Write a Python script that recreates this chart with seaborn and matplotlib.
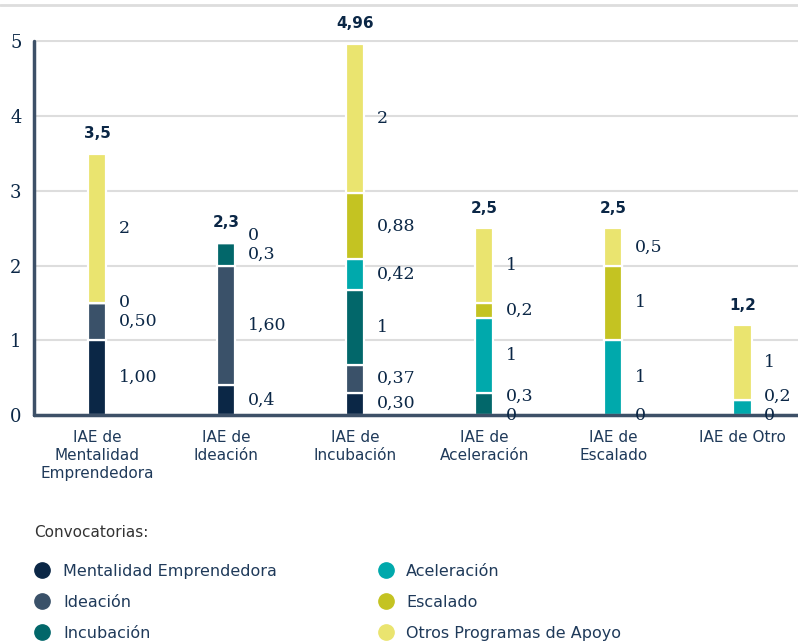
import numpy as np
import pandas as pd
import matplotlib
matplotlib.use("Agg")
import matplotlib.pyplot as plt
from matplotlib.lines import Line2D
import seaborn as sns

# Categories (x axis)
categories = ["IAE de\nMentalidad\nEmprendedora", "IAE de\nIdeación", "IAE de\nIncubación",
              "IAE de\nAceleración", "IAE de\nEscalado", "IAE de Otro"]

# Series values as printed on the chart (None = no segment / no label)
mentalidad = ["1,00", "0,4", "0,30", "0", "0", "0"]
ideacion = ["0,50", "1,60", "0,37", None, None, None]
incubacion = ["0", "0,3", "1", "0,3", None, None]
aceleracion = [None, "0", "0,42", "1", "1", "0,2"]
escalado = [None, None, "0,88", "0,2", "1", None]
otros = ["2", None, "2", "1", "0,5", "1"]

totals = ["3,5", "2,3", "4,96", "2,5", "2,5", "1,2"]

series_names = ["Mentalidad Emprendedora", "Ideación", "Incubación",
                "Aceleración", "Escalado", "Otros Programas de Apoyo"]
series_data = [mentalidad, ideacion, incubacion, aceleracion, escalado, otros]
colors = ["#0B2746", "#3A5169", "#02676A", "#00A9AC", "#C4C322", "#EAE46F"]


def to_num(s):
    return np.nan if s is None else float(s.replace(",", "."))


sns.set_style("white")
serif = "DejaVu Serif"
sans = "DejaVu Sans"
navy = "#0B2746"

fig = plt.figure(figsize=(7.98, 6.44), dpi=100)
ax = fig.add_axes([34 / 798, 1 - 415 / 644, 1 - 34 / 798, (415 - 40) / 644])

bottom = np.zeros(len(categories))
label_pos = [[] for _ in categories]
for name, vals, col in zip(series_names, series_data, colors):
    nums = np.array([to_num(v) for v in vals])
    h = np.nan_to_num(nums)
    df = pd.DataFrame({"cat": categories, "val": h})
    sns.barplot(data=df, x="cat", y="val", order=categories, color=col,
                width=0.14, errorbar=None, bottom=bottom, ax=ax,
                edgecolor="white", linewidth=1.6, saturation=1)
    for i, v in enumerate(vals):
        if v is not None:
            label_pos[i].append((bottom[i] + h[i] / 2, v))
    bottom = bottom + h

# segment labels, nudged apart when too close
for i, labs in enumerate(label_pos):
    prev = -1
    for y, txt in labs:
        if y < prev + 0.25:
            y = prev + 0.25
        prev = y
        ax.text(i + 0.165, y, txt, ha="left", va="center", family=serif,
                fontsize=12.5, color=navy)

# totals above bars
for i, t in enumerate(totals):
    ax.text(i, bottom[i] + 0.17, t, ha="center", va="bottom", family=sans,
            fontsize=11, fontweight="bold", color=navy)

ax.set_xlim(-0.49, 5.43)
ax.set_ylim(0, 5.02)
ax.set_yticks([0, 1, 2, 3, 4, 5])
ax.set_yticklabels(["0", "1", "2", "3", "4", "5"], family=serif, fontsize=13, color=navy)
ax.set_xticks(range(len(categories)))
ax.set_xticklabels(categories, family=sans, fontsize=11, color="#1F3A5A", linespacing=1.22)
ax.tick_params(axis="both", length=0)
ax.tick_params(axis="y", pad=9)
ax.tick_params(axis="x", pad=11)
ax.set_xlabel("")
ax.set_ylabel("")
ax.yaxis.grid(True, color="#DDDDDD", linewidth=1.5)
ax.set_axisbelow(True)
for s in ["top", "right"]:
    ax.spines[s].set_visible(False)
for s in ["left", "bottom"]:
    ax.spines[s].set_color("#3D5067")
    ax.spines[s].set_linewidth(2.5)
    ax.spines[s].set_capstyle("round")
ax.spines["left"].set_bounds(0, 5)

# thin rule at top of figure
fig.add_artist(Line2D([0, 1], [1 - 5 / 644] * 2, color="#DDDDDD", lw=2))

# legend
handles = [Line2D([], [], marker="o", linestyle="", markersize=11, color=c) for c in colors]
leg = fig.legend(handles, series_names, loc="upper left", bbox_to_anchor=(20 / 798, 1 - 511 / 644),
                 ncol=2, frameon=False, title="Convocatorias:", alignment="left",
                 prop={"family": sans, "size": 11.5}, title_fontproperties={"family": sans, "size": 11},
                 labelspacing=1.0, columnspacing=6.3, handletextpad=0.8, handlelength=1.0)
for t in leg.get_texts():
    t.set_color("#1F3A5A")
leg.get_title().set_color("#333333")
leg._legend_box.sep = 17

fig.savefig("out.png", dpi=100)
